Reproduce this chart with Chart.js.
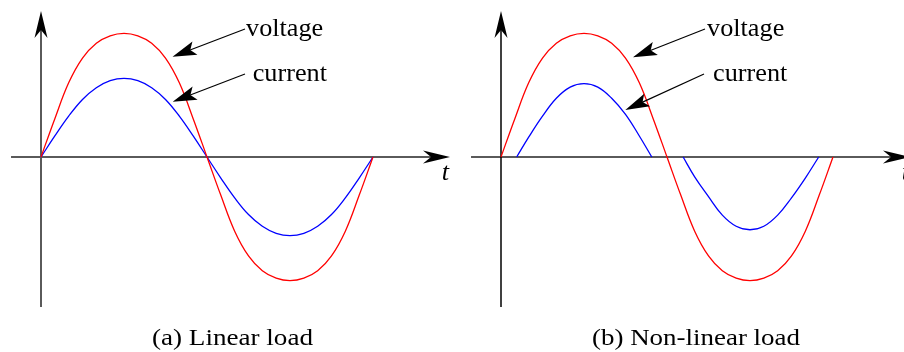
<!DOCTYPE html>
<html>
<head>
<meta charset="utf-8">
<script src="https://cdn.jsdelivr.net/npm/chart.js@4"></script>
<style>
  html, body { margin: 0; padding: 0; background: #fff; }
  .panel { position: absolute; top: 0; width: 452px; height: 352px; }
  #panelA { left: 0; }
  #panelB { left: 452px; }
</style>
</head>
<body>
<div class="panel" id="panelA"><canvas id="chartA" width="452" height="352"></canvas></div>
<div class="panel" id="panelB"><canvas id="chartB" width="452" height="352"></canvas></div>
<script>
// ─── Data (t in degrees of one period, amplitude relative to voltage peak) ───

const ANGLES = [0, 15, 30, 45, 60, 75, 90, 105, 120, 135, 150, 165, 180,
                195, 210, 225, 240, 255, 270, 285, 300, 315, 330, 345, 360];
const VOLTAGE = [0, 0.31, 0.6, 0.8, 0.92, 0.98, 1.0, 0.98, 0.92, 0.8, 0.6, 0.31, 0,
                 -0.31, -0.6, -0.8, -0.92, -0.98, -1.0, -0.98, -0.92, -0.8, -0.6, -0.31, 0];
const CURRENT_LINEAR = [0, 0.17, 0.33, 0.465, 0.56, 0.617, 0.636, 0.617, 0.56, 0.465, 0.33, 0.17, 0,
                        -0.17, -0.33, -0.465, -0.56, -0.617, -0.636, -0.617, -0.56, -0.465, -0.33, -0.17, 0];

// non-linear load: current only flows in pulses (null = no conduction)
const CURRENT_NL_ANGLES = [17, 30, 45, 60, 75, 90, 105, 120, 135, 150, 163.5, 180,
                           197.5, 210, 225, 240, 255, 270, 285, 300, 315, 330, 344.5];
const CURRENT_NL = [0, 0.16, 0.33, 0.475, 0.565, 0.593, 0.565, 0.475, 0.345, 0.17, 0, null,
                    0, -0.16, -0.32, -0.47, -0.56, -0.588, -0.56, -0.47, -0.33, -0.17, 0];

const CAPTIONS = ['(a) Linear load', '(b) Non-linear load'];
const SERIES_LABELS = ['voltage', 'current'];

// ─── Layout ───────────────────────────────────────────────────────────────────

const W = 452, H = 352;
const ORIGIN_Y = 157;          // px of the t axis
const UNIT_PX = 123.7;         // px per unit amplitude
const DEG_PX = 332 / 360;      // px per degree
const AXIS_T = [-32.5, 443.5]; // extent of t axis (deg)
const AXIS_V = [-1.213, 1.18]; // extent of vertical axis
const T_LABEL = [434.5, -0.186];
const SERIF = '"Liberation Serif", "Times New Roman", Times, serif';
const LABEL_FONT = '25px ' + SERIF;
const SX = 1.05;               // figure is stretched horizontally

const RED = 'rgb(255,0,0)', BLUE = 'rgb(0,0,255)', GREY = '#5a5a5a';

const panels = [
  {
    canvas: 'chartA', originX: 41, yAxisColor: GREY, yAxisWidth: 2,
    current: toPoints(ANGLES, CURRENT_LINEAR),
    caption: { text: CAPTIONS[0], cx: 232.5, width: 161 },
    notes: [
      { text: SERIES_LABELS[0], tip: [142.6, 0.811], from: [221.2, 1.035], at: [222.3, 0.978] },
      { text: SERIES_LABELS[1], tip: [142.8, 0.447], from: [221.2, 0.671], at: [229.5, 0.614] },
    ],
  },
  {
    canvas: 'chartB', originX: 49, yAxisColor: '#000', yAxisWidth: 1.5,
    current: toPoints(CURRENT_NL_ANGLES, CURRENT_NL),
    caption: { text: CAPTIONS[1], cx: 244, width: 208 },
    notes: [
      { text: SERIES_LABELS[0], tip: [143.1, 0.806], from: [221.2, 1.035], at: [223.4, 0.978] },
      { text: SERIES_LABELS[1], tip: [134.8, 0.38], from: [220.1, 0.671], at: [229.9, 0.614] },
    ],
  },
];

function toPoints(xs, ys) {
  return xs.map((x, i) => ({ x, y: ys[i] }));
}

// ─── Drawing helpers ──────────────────────────────────────────────────────────

function arrowHead(ctx, tx, ty, angle, len, half, notch) {
  ctx.save();
  ctx.translate(tx, ty);
  ctx.rotate(angle);
  ctx.beginPath();
  ctx.moveTo(0, 0);
  ctx.lineTo(-len, half);
  ctx.lineTo(-len + notch, 0);
  ctx.lineTo(-len, -half);
  ctx.closePath();
  ctx.fillStyle = '#000';
  ctx.fill();
  ctx.restore();
}

function stretchedText(ctx, text, x, y, font, sx, align) {
  ctx.save();
  ctx.font = font;
  ctx.translate(x, y);
  ctx.scale(sx, 1);
  ctx.textAlign = align || 'left';
  ctx.textBaseline = 'alphabetic';
  ctx.fillStyle = '#000';
  ctx.fillText(text, 0, 0);
  ctx.restore();
}

function figurePlugin(panel) {
  return {
    id: 'figure',
    beforeDatasetsDraw(chart) {
      const { ctx, scales: { x, y } } = chart;
      const x0 = x.getPixelForValue(0), y0 = y.getPixelForValue(0);
      const xs = x.getPixelForValue(AXIS_T[0]), xe = x.getPixelForValue(AXIS_T[1]);
      const yb = y.getPixelForValue(AXIS_V[0]), yt = y.getPixelForValue(AXIS_V[1]);

      ctx.save();
      ctx.lineCap = 'butt';
      ctx.strokeStyle = GREY;
      ctx.lineWidth = 2;
      ctx.beginPath(); ctx.moveTo(xs, y0); ctx.lineTo(xe - 18, y0); ctx.stroke();

      ctx.strokeStyle = panel.yAxisColor;
      ctx.lineWidth = panel.yAxisWidth;
      ctx.beginPath(); ctx.moveTo(x0, yb); ctx.lineTo(x0, yt + 18); ctx.stroke();

      arrowHead(ctx, xe, y0, 0, 27, 6.5, 8);
      arrowHead(ctx, x0, yt, -Math.PI / 2, 27, 6.5, 8);

      stretchedText(ctx, 't', x.getPixelForValue(T_LABEL[0]), y.getPixelForValue(T_LABEL[1]),
        'italic 25px ' + SERIF, SX);
      ctx.restore();
    },
    afterDatasetsDraw(chart) {
      const { ctx, scales: { x, y } } = chart;
      ctx.save();
      panel.notes.forEach(n => {
        const tx = x.getPixelForValue(n.tip[0]), ty = y.getPixelForValue(n.tip[1]);
        const fx = x.getPixelForValue(n.from[0]), fy = y.getPixelForValue(n.from[1]);
        const ang = Math.atan2(ty - fy, tx - fx);
        ctx.strokeStyle = '#000';
        ctx.lineWidth = 1.2;
        ctx.beginPath();
        ctx.moveTo(fx, fy);
        ctx.lineTo(tx - Math.cos(ang) * 16, ty - Math.sin(ang) * 16);
        ctx.stroke();
        arrowHead(ctx, tx, ty, ang, 24, 7, 5);
        stretchedText(ctx, n.text, x.getPixelForValue(n.at[0]), y.getPixelForValue(n.at[1]),
          LABEL_FONT, SX);
      });

      const c = panel.caption;
      const capFont = '23px ' + SERIF;
      ctx.font = capFont;
      const sx = c.width / ctx.measureText(c.text).width;
      stretchedText(ctx, c.text, c.cx, 345, capFont, sx, 'center');
      ctx.restore();
    },
  };
}

// ─── Charts ───────────────────────────────────────────────────────────────────

panels.forEach(panel => {
  const xMin = -panel.originX / DEG_PX;
  const xMax = (W - panel.originX) / DEG_PX;
  const yMax = ORIGIN_Y / UNIT_PX;
  const yMin = -(H - ORIGIN_Y) / UNIT_PX;

  new Chart(document.getElementById(panel.canvas), {
    type: 'line',
    data: {
      datasets: [
        { label: SERIES_LABELS[0], data: toPoints(ANGLES, VOLTAGE), borderColor: RED },
        { label: SERIES_LABELS[1], data: panel.current, borderColor: BLUE, spanGaps: false },
      ],
    },
    options: {
      responsive: false,
      animation: false,
      devicePixelRatio: 1,
      events: [],
      layout: { padding: 0 },
      elements: {
        point: { radius: 0 },
        line: { borderWidth: 1.3, tension: 0.4, fill: false },
      },
      scales: {
        x: { type: 'linear', display: false, min: xMin, max: xMax },
        y: { type: 'linear', display: false, min: yMin, max: yMax },
      },
      plugins: { legend: { display: false }, tooltip: { enabled: false } },
    },
    plugins: [figurePlugin(panel)],
  });
});
</script>
</body>
</html>
